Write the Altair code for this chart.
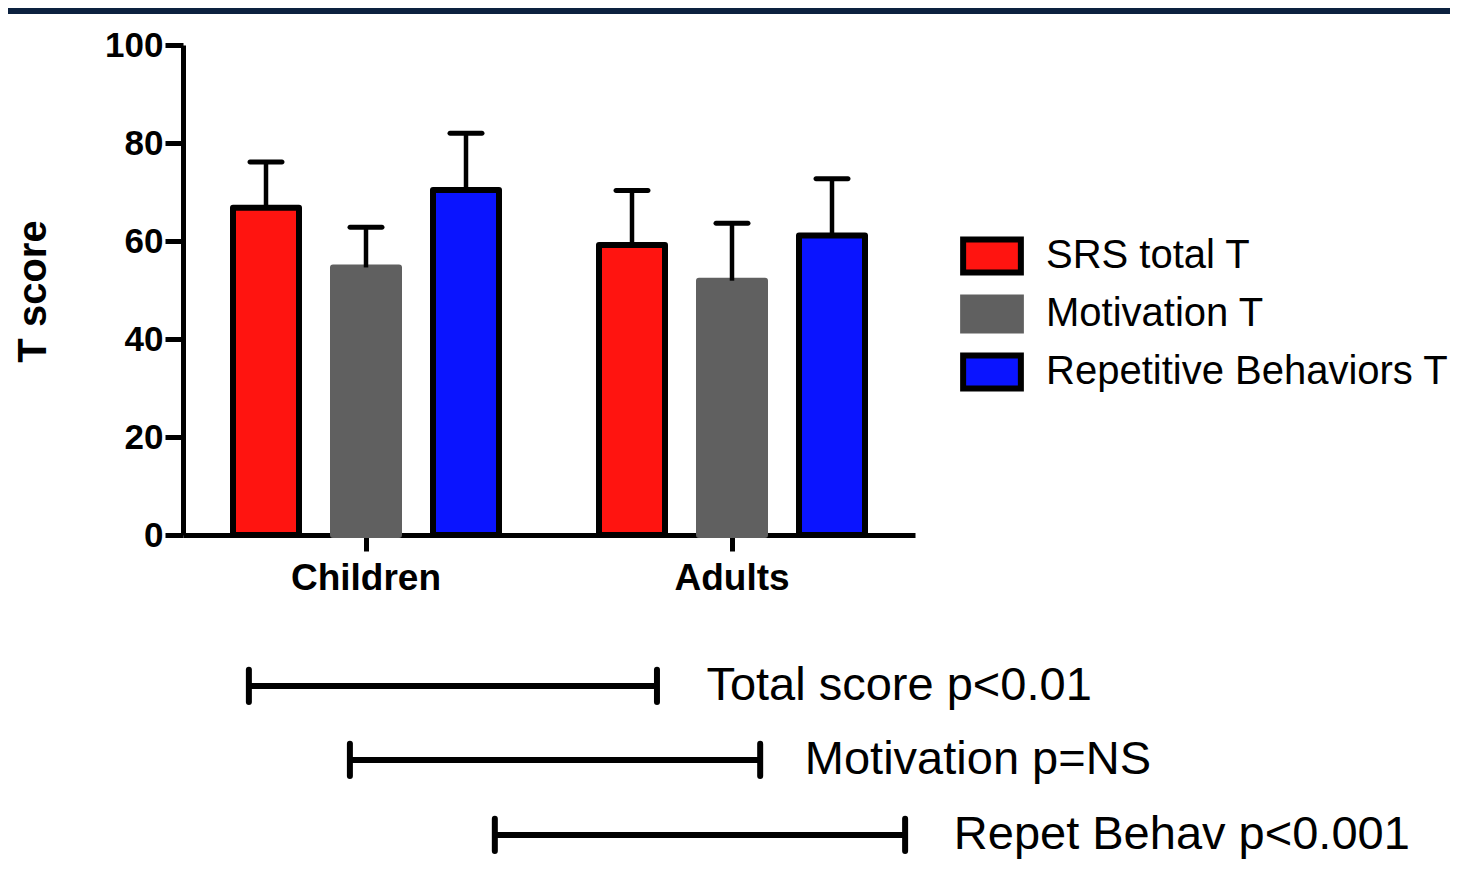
import altair as alt
import pandas as pd

# ---------------- data ----------------
groups = ["Children", "Adults"]
series = ["SRS total T", "Motivation T", "Repetitive Behaviors T"]
children_means = [66.8, 54.6, 70.4]
children_upper = [76.1, 62.8, 82.0]
adult_means = [59.2, 51.9, 61.1]
adult_upper = [70.3, 63.6, 72.7]
fill_colors = ["#FF1410", "#606060", "#0A14FF"]
outline_colors = ["#000000", "#606060", "#000000"]

ann_labels = ["Total score p<0.01", "Motivation p=NS", "Repet Behav p<0.001"]
ann_start = [0.180, 0.456, 0.852]   # in group units (0..2 across the plot)
ann_end = [1.295, 1.577, 1.973]
ann_level = [-30.8, -45.9, -61.2]   # in T-score units, below the axis
ann_text_x = [1.430, 1.699, 2.106]
ann_tick_half = 3.3

# ---------------- tables ----------------
rows = []
for g, means, ups in [("Children", children_means, children_upper),
                      ("Adults", adult_means, adult_upper)]:
    for s, m, u in zip(series, means, ups):
        rows.append({"group": g, "series": s, "mean": m, "upper": u})
df = pd.DataFrame(rows)

ann_df = pd.DataFrame({"label": ann_labels, "start": ann_start, "end": ann_end,
                       "level": ann_level, "tx": ann_text_x})
tick_rows = []
for s, e, l in zip(ann_start, ann_end, ann_level):
    for p in (s, e):
        tick_rows.append({"pos": p, "lo": l - ann_tick_half, "hi": l + ann_tick_half})
tick_df = pd.DataFrame(tick_rows)

FONT = "Liberation Sans"
yscale = alt.Scale(domain=[0, 100], nice=False, zero=True)
xband = alt.Scale(paddingInner=0, paddingOuter=0)
xoff = alt.Scale(domain=series, paddingInner=0.34, paddingOuter=0.5)

legend = alt.Legend(
    title=None, orient="none", legendX=789, legendY=191,
    symbolType="M-1.75,-1H1.75V1H-1.75Z", symbolSize=1089, symbolStrokeWidth=6,
    symbolOpacity=1, labelFont=FONT, labelFontSize=40, labelColor="black",
    labelLimit=1000, labelOffset=34, rowPadding=0,
)

X = alt.X("group:N", sort=groups, scale=xband,
          axis=alt.Axis(title=None, labelAngle=0, tickSize=16, labelFontSize=37,
                        labelPadding=9))
XO = alt.XOffset("series:N", sort=series, scale=xoff)

bars = alt.Chart(df).mark_bar(strokeWidth=6, strokeJoin="round").encode(
    x=X,
    xOffset=XO,
    y=alt.Y("mean:Q", scale=yscale,
            axis=alt.Axis(values=[0, 20, 40, 60, 80, 100], tickSize=18,
                          labelFontSize=35, labelPadding=2, title="T score",
                          titleFont=FONT, titleFontSize=40, titleFontWeight="bold",
                          titleColor="black", titleX=-150, titleY=246,
                          titleAlign="center", titleBaseline="middle")),
    fill=alt.Fill("series:N", sort=series,
                  scale=alt.Scale(domain=series, range=fill_colors), legend=legend),
    stroke=alt.Stroke("series:N", sort=series,
                      scale=alt.Scale(domain=series, range=outline_colors), legend=legend),
)

err_lines = alt.Chart(df).mark_rule(strokeWidth=4.5, color="black").encode(
    x=X, xOffset=XO,
    y=alt.Y("mean:Q", scale=yscale), y2="upper:Q",
)
err_caps = alt.Chart(df).mark_tick(size=37, thickness=5, color="black",
                                   cornerRadius=2.5, opacity=1).encode(
    x=X, xOffset=XO,
    y=alt.Y("upper:Q", scale=yscale),
)

bar_layer = alt.layer(bars, err_lines, err_caps)

xq = alt.Scale(domain=[0, 2], nice=False, zero=False)
ann_lines = alt.Chart(ann_df).mark_rule(strokeWidth=6, color="black").encode(
    x=alt.X("start:Q", scale=xq, axis=None), x2="end:Q",
    y=alt.Y("level:Q", scale=yscale),
)
ann_ticks = alt.Chart(tick_df).mark_rule(strokeWidth=6, color="black",
                                         strokeCap="round").encode(
    x=alt.X("pos:Q", scale=xq, axis=None),
    y=alt.Y("lo:Q", scale=yscale), y2="hi:Q",
)
ann_text = alt.Chart(ann_df).mark_text(align="left", baseline="middle", font=FONT,
                                       fontSize=47, color="black").encode(
    x=alt.X("tx:Q", scale=xq, axis=None),
    y=alt.Y("level:Q", scale=yscale),
    text="label:N",
)
ann_layer = alt.layer(ann_lines, ann_ticks, ann_text)

top_band = alt.Chart(pd.DataFrame({"k": [0]})).mark_rect(color="#0C213F").encode(
    x=alt.value(-175), x2=alt.value(1300), y=alt.value(-37), y2=alt.value(-31),
)

chart = alt.layer(bar_layer, ann_layer, top_band).resolve_scale(
    x="independent"
).properties(
    width=732, height=490, autosize="none",
    padding={"left": 175, "top": 37, "right": 535, "bottom": 340},
).configure_view(stroke=None).configure_axis(
    domainColor="black", domainWidth=5, tickColor="black", tickWidth=5,
    labelFont=FONT, labelFontWeight="bold", labelColor="black", grid=False,
)

chart.save("out.html", embed_options={"renderer": "svg", "actions": False})
